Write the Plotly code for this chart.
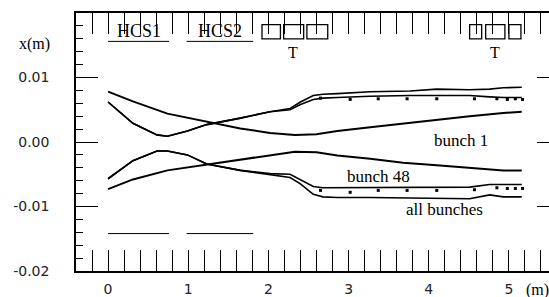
import plotly.graph_objects as go

# ---- data ----
# bunch 1 (upper and lower branch)
b1_x = [0, 0.31, 0.74, 1.23, 1.65, 2.02, 2.33, 2.60, 2.86, 3.27, 3.68, 4.10, 4.51, 4.93, 5.16]
b1_up = [0.0078, 0.0063, 0.0044, 0.0032, 0.0021, 0.0014, 0.0011, 0.0012, 0.0017, 0.0023, 0.0029, 0.0034, 0.0040, 0.0045, 0.0047]
b1_lo = [-0.0073, -0.0058, -0.0044, -0.0035, -0.0027, -0.0020, -0.0015, -0.0016, -0.0021, -0.0026, -0.0032, -0.0036, -0.0040, -0.0044, -0.0044]

# bunch 48 and all bunches (upper and lower branches)
bx = [0, 0.31, 0.61, 0.74, 0.99, 1.23, 1.65, 2.02, 2.27, 2.40, 2.56, 2.68, 2.86, 3.27, 3.77, 4.10, 4.51, 4.76, 4.93, 5.16]
b48_up = [0.0062, 0.0029, 0.0011, 0.0009, 0.0017, 0.0027, 0.0037, 0.0047, 0.0050, 0.0058, 0.0066, 0.0068, 0.0069, 0.0071, 0.0072, 0.0072, 0.0072, 0.0070, 0.0069, 0.0069]
all_up = [0.0062, 0.0029, 0.0011, 0.0009, 0.0017, 0.0027, 0.0037, 0.0047, 0.0052, 0.0062, 0.0072, 0.0074, 0.0075, 0.0078, 0.0079, 0.0082, 0.0081, 0.0082, 0.0084, 0.0085]
b48_lo = [-0.0057, -0.0029, -0.0014, -0.0014, -0.0020, -0.0034, -0.0044, -0.0049, -0.0050, -0.0058, -0.0069, -0.0071, -0.0071, -0.0071, -0.0071, -0.0071, -0.0070, -0.0066, -0.0066, -0.0066]
all_lo = [-0.0057, -0.0029, -0.0014, -0.0014, -0.0020, -0.0034, -0.0044, -0.0050, -0.0055, -0.0065, -0.0081, -0.0085, -0.0086, -0.0086, -0.0087, -0.0088, -0.0088, -0.0082, -0.0085, -0.0085]

# scattered dotted trace points
dots_x = [2.65, 3.02, 3.37, 3.73, 4.10, 4.57, 4.85, 4.98, 5.08, 5.17]
dots_up = [0.0068, 0.0066, 0.0067, 0.0067, 0.0067, 0.0067, 0.0067, 0.0066, 0.0067, 0.0066]
dots_lo = [-0.0075, -0.0078, -0.0075, -0.0075, -0.0075, -0.0074, -0.0071, -0.0072, -0.0072, -0.0072]

# elements: HCS magnets (x extents) and boxes
hcs_names = ["HCS1", "HCS2"]
hcs_x0 = [0.0, 0.98]
hcs_x1 = [0.76, 1.81]
hcs_y_top = 0.0156
hcs_y_bot = -0.0142
box_x0 = [1.92, 2.19, 2.48, 4.51, 4.71, 5.00]
box_x1 = [2.15, 2.44, 2.74, 4.66, 4.95, 5.15]
box_y0 = 0.0160
box_y1 = 0.0182
t_x = [2.31, 4.83]
t_y = 0.0138

# labels
lab_text = ["bunch 1", "bunch 48", "all bunches"]
lab_x = [4.40, 3.37, 4.20]
lab_y = [0.0002, -0.0053, -0.0105]

ytick_vals = [-0.02, -0.01, 0.0, 0.01]
ytick_text = ["-0.02", "-0.01", "0.00", "0.01"]
xtick_vals = [0, 1, 2, 3, 4, 5]

W, H = 549, 297
ML, MT, MB = 76, 13, 22
PW, PH = W - ML, H - MT - MB

fig = go.Figure()
lw = 2
for y in (b1_up, b1_lo):
    fig.add_trace(go.Scatter(x=b1_x, y=y, mode="lines", line=dict(color="black", width=lw), showlegend=False))
for y in (b48_up, all_up, b48_lo, all_lo):
    fig.add_trace(go.Scatter(x=bx, y=y, mode="lines", line=dict(color="black", width=1.6), showlegend=False))
for y in (dots_up, dots_lo):
    fig.add_trace(go.Scatter(x=dots_x, y=y, mode="markers", marker=dict(color="black", size=3, symbol="square"), showlegend=False))

for x0, x1 in zip(hcs_x0, hcs_x1):
    for yy in (hcs_y_top, hcs_y_bot):
        fig.add_trace(go.Scatter(x=[x0, x1], y=[yy, yy], mode="lines", line=dict(color="black", width=1), showlegend=False))

for x0, x1 in zip(box_x0, box_x1):
    fig.add_shape(type="rect", x0=x0, x1=x1, y0=box_y0, y1=box_y1, xref="x", yref="y",
                  line=dict(color="black", width=1.3))

serif = "Liberation Serif"
for name, x0, x1 in zip(hcs_names, hcs_x0, hcs_x1):
    fig.add_annotation(x=(x0 + x1) / 2, y=hcs_y_top, text=name, showarrow=False, yanchor="bottom",
                       yshift=-2, font=dict(family=serif, size=18, color="black"))
for tx in t_x:
    fig.add_annotation(x=tx, y=t_y, text="T", showarrow=False, font=dict(family=serif, size=16, color="black"))
for t, x, y in zip(lab_text, lab_x, lab_y):
    fig.add_annotation(x=x, y=y, text=t, showarrow=False, font=dict(family=serif, size=17, color="black"))

fig.add_annotation(x=(34 - ML) / PW, y=(MT + PH - 44) / PH, xref="paper", yref="paper", text="x(m)",
                   showarrow=False, xanchor="center", yanchor="middle",
                   font=dict(family=serif, size=16, color="black"))
fig.add_annotation(x=1.0, y=-(290 - MT - PH) / PH, xref="paper", yref="paper", text="(m)", showarrow=False,
                   xanchor="right", yanchor="middle", xshift=2, yshift=-4,
                   font=dict(family=serif, size=16, color="black"))

# dummy trace for right-side tick axis
fig.add_trace(go.Scatter(x=[0], y=[0], yaxis="y2", mode="markers", marker=dict(opacity=0), showlegend=False, hoverinfo="skip"))

tickfont = dict(family="DejaVu Sans", size=14, color="#222")
fig.update_layout(
    width=W, height=H,
    margin=dict(l=ML, r=0, t=MT, b=MB),
    paper_bgcolor="white", plot_bgcolor="white",
    xaxis=dict(range=[-0.4, 5.5], tickvals=xtick_vals, ticks="inside", ticklen=21, tickwidth=1.3,
               tickcolor="black", showline=True, linecolor="black", linewidth=1.5, mirror="allticks",
               showgrid=False, zeroline=False, tickfont=tickfont, ticklabelstandoff=4,
               minor=dict(ticks="inside", dtick=0.2, tick0=0, ticklen=6, tickwidth=1.2, tickcolor="black", showgrid=False)),
    yaxis=dict(range=[-0.02, 0.02], tickvals=ytick_vals, ticktext=ytick_text, ticks="inside", ticklen=22,
               tickwidth=1.3, tickcolor="black", showline=True, linecolor="black", linewidth=1.5,
               showgrid=False, zeroline=False, tickfont=tickfont, ticklabelstandoff=22,
               minor=dict(ticks="inside", dtick=0.002, tick0=0, ticklen=7, tickwidth=1.2, tickcolor="black", showgrid=False)),
    yaxis2=dict(range=[-0.02, 0.02], overlaying="y", side="right", tickvals=[-0.01, 0.0, 0.01],
                ticks="inside", ticklen=12, tickwidth=1.3, tickcolor="black", showticklabels=False,
                showline=False, showgrid=False, zeroline=False),
)
fig.write_html("out.html", config={"displayModeBar": False},
               post_script="document.body.style.margin='0';document.body.style.overflow='hidden';")
